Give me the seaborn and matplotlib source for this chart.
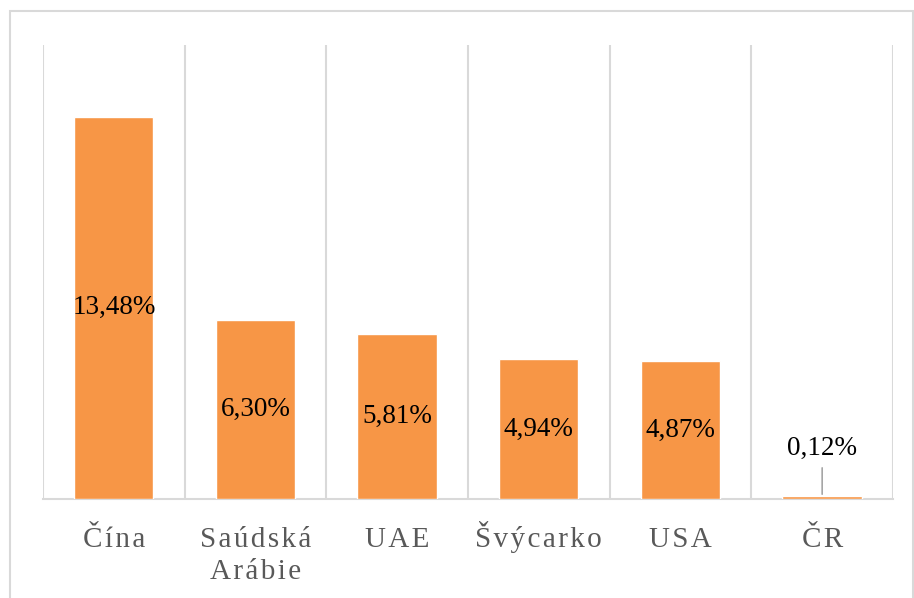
import matplotlib.pyplot as plt
import seaborn as sns
import pandas as pd
from matplotlib.patches import Rectangle

countries = ["Čína", "Saúdská\nArábie", "UAE", "Švýcarko", "USA", "ČR"]
shares = [13.48, 6.30, 5.81, 4.94, 4.87, 0.12]
share_labels = ["13,48%", "6,30%", "5,81%", "4,94%", "4,87%", "0,12%"]

BAR_COLOR = "#F79646"
GRID_COLOR = "#D9D9D9"
SERIF = ["Liberation Serif", "DejaVu Serif"]

sns.set_theme(style="white")
plt.rcParams["font.family"] = SERIF

df = pd.DataFrame({"country": countries, "share": shares})

fig = plt.figure(figsize=(9.14, 5.98), dpi=100)
ax = fig.add_axes([43 / 914, 1 - 499 / 598, 850 / 914, 454 / 598])
fig.patches.append(Rectangle((10 / 914, -0.01), 903 / 914, 1 - 11 / 598 + 0.01,
                             transform=fig.transFigure, fill=False,
                             edgecolor=GRID_COLOR, linewidth=1.5))

sns.barplot(data=df, x="country", y="share", color=BAR_COLOR, width=0.56,
            saturation=1, ax=ax, zorder=3)

ax.set_xlim(-0.5, len(countries) - 0.5)
ax.set_ylim(0, 16)
for i in range(len(countries) + 1):
    ax.axvline(i - 0.5, color=GRID_COLOR, linewidth=1.5, zorder=0)

for i, (v, lab) in enumerate(zip(shares, share_labels)):
    if v < 1:
        ax.annotate(lab, xy=(i, v), xytext=(i, 1.8), ha="center", va="center",
                    fontsize=19.5, color="black",
                    arrowprops=dict(arrowstyle="-", color="#A6A6A6", lw=1.2,
                                    shrinkA=3, shrinkB=1))
    else:
        ax.text(i, v / 2, lab, ha="center", va="center", fontsize=19.5,
                color="black", zorder=4)

# category labels, letter-spaced with hair spaces, aligned on baselines
ax.set_xticks([])
for i, name in enumerate(countries):
    for k, line in enumerate(name.split("\n")):
        ax.annotate("\u200a".join(line), xy=(i, 0), xycoords=("data", "axes fraction"),
                    xytext=(0, -(48 + 32 * k) * 0.72), textcoords="offset points",
                    ha="center", va="baseline", fontsize=21, color="#595959")
ax.set_yticks([])
ax.set_xlabel("")
ax.set_ylabel("")
for side in ["top", "left", "right"]:
    ax.spines[side].set_visible(False)
ax.spines["bottom"].set_color(GRID_COLOR)
ax.spines["bottom"].set_linewidth(1.5)
ax.spines["bottom"].set_zorder(1)

fig.savefig("out.png", dpi=100)
